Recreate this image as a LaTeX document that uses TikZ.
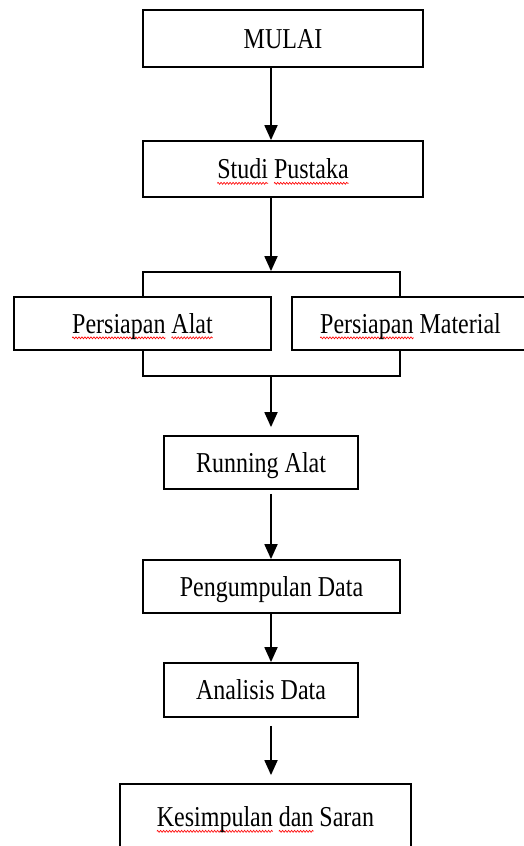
\documentclass[tikz,border=0pt]{standalone}
\usepackage{fontspec}
\setmainfont{Liberation Serif}
\usetikzlibrary{arrows.meta,decorations.pathmorphing}
\newdimen\wavelen
\newcommand\spellwave[1]{\setbox0\hbox{#1}\wavelen=\wd0\rlap{\tikz[overlay,x=1pt,y=1pt]\draw[red,line width=0.6pt,decorate,decoration={zigzag,amplitude=0.8pt,segment length=3pt}] (0pt,-4pt) -- (\the\wavelen,-4pt);}#1}
\newcommand\tall[1]{\scalebox{1}[1.2]{#1}}

\begin{document}
\begin{tikzpicture}[x=1pt,y=-1pt]
    \tikzstyle{flowbox}=[draw,line width=1.8pt,fill=white,inner sep=0pt,text height=19pt,text depth=0pt,font=\fontsize{24}{28}\selectfont]
    \tikzstyle{farr}=[line width=1.8pt,-{Triangle[length=15pt,width=13pt]}]

    \useasboundingbox (0,0) rectangle (523,846);
    \coordinate (axis) at (271,0);

    \node[draw,line width=1.8pt,minimum width=257pt,minimum height=104pt] (fork) at (271.5,324) {};

    \node[flowbox,minimum width=280pt,minimum height=57pt] (mulai) at (283,38.5) {\tall{MULAI}};
    \node[flowbox,minimum width=280pt,minimum height=56pt] (studi) at (283,169) {\tall{\spellwave{Studi} \spellwave{Pustaka}}};
    \node[flowbox,minimum width=257pt,minimum height=53pt] (alat) at (142.5,323.5) {\tall{\spellwave{Persiapan} \spellwave{Alat}}};
    \node[flowbox,minimum width=237pt,minimum height=53pt] (material) at (410.5,323.5) {\tall{\spellwave{Persiapan} Material}};
    \node[flowbox,minimum width=194pt,minimum height=53pt] (running) at (261,462.5) {\tall{Running Alat}};
    \node[flowbox,minimum width=257pt,minimum height=53pt] (peng) at (271.5,586.5) {\tall{Pengumpulan Data}};
    \node[flowbox,minimum width=194pt,minimum height=54pt] (analisis) at (261,690) {\tall{Analisis Data}};
    \node[flowbox,minimum width=291pt,minimum height=66pt] (kesimpulan) at (265.5,817) {\tall{\spellwave{Kesimpulan} \spellwave{dan} Saran}};

    \draw[farr] (mulai.south -| axis) -- (studi.north -| axis);
    \draw[farr] (studi.south -| axis) -- (fork.north -| axis);
    \draw[farr,shorten >=8pt] (fork.south -| axis) -- (running.north -| axis);
    \draw[farr,shorten <=4pt] (running.south -| axis) -- (peng.north -| axis);
    \draw[farr] (peng.south -| axis) -- (analisis.north -| axis);
    \draw[farr,shorten <=8pt,shorten >=8pt] (analisis.south -| axis) -- (kesimpulan.north -| axis);

\end{tikzpicture}
\end{document}
